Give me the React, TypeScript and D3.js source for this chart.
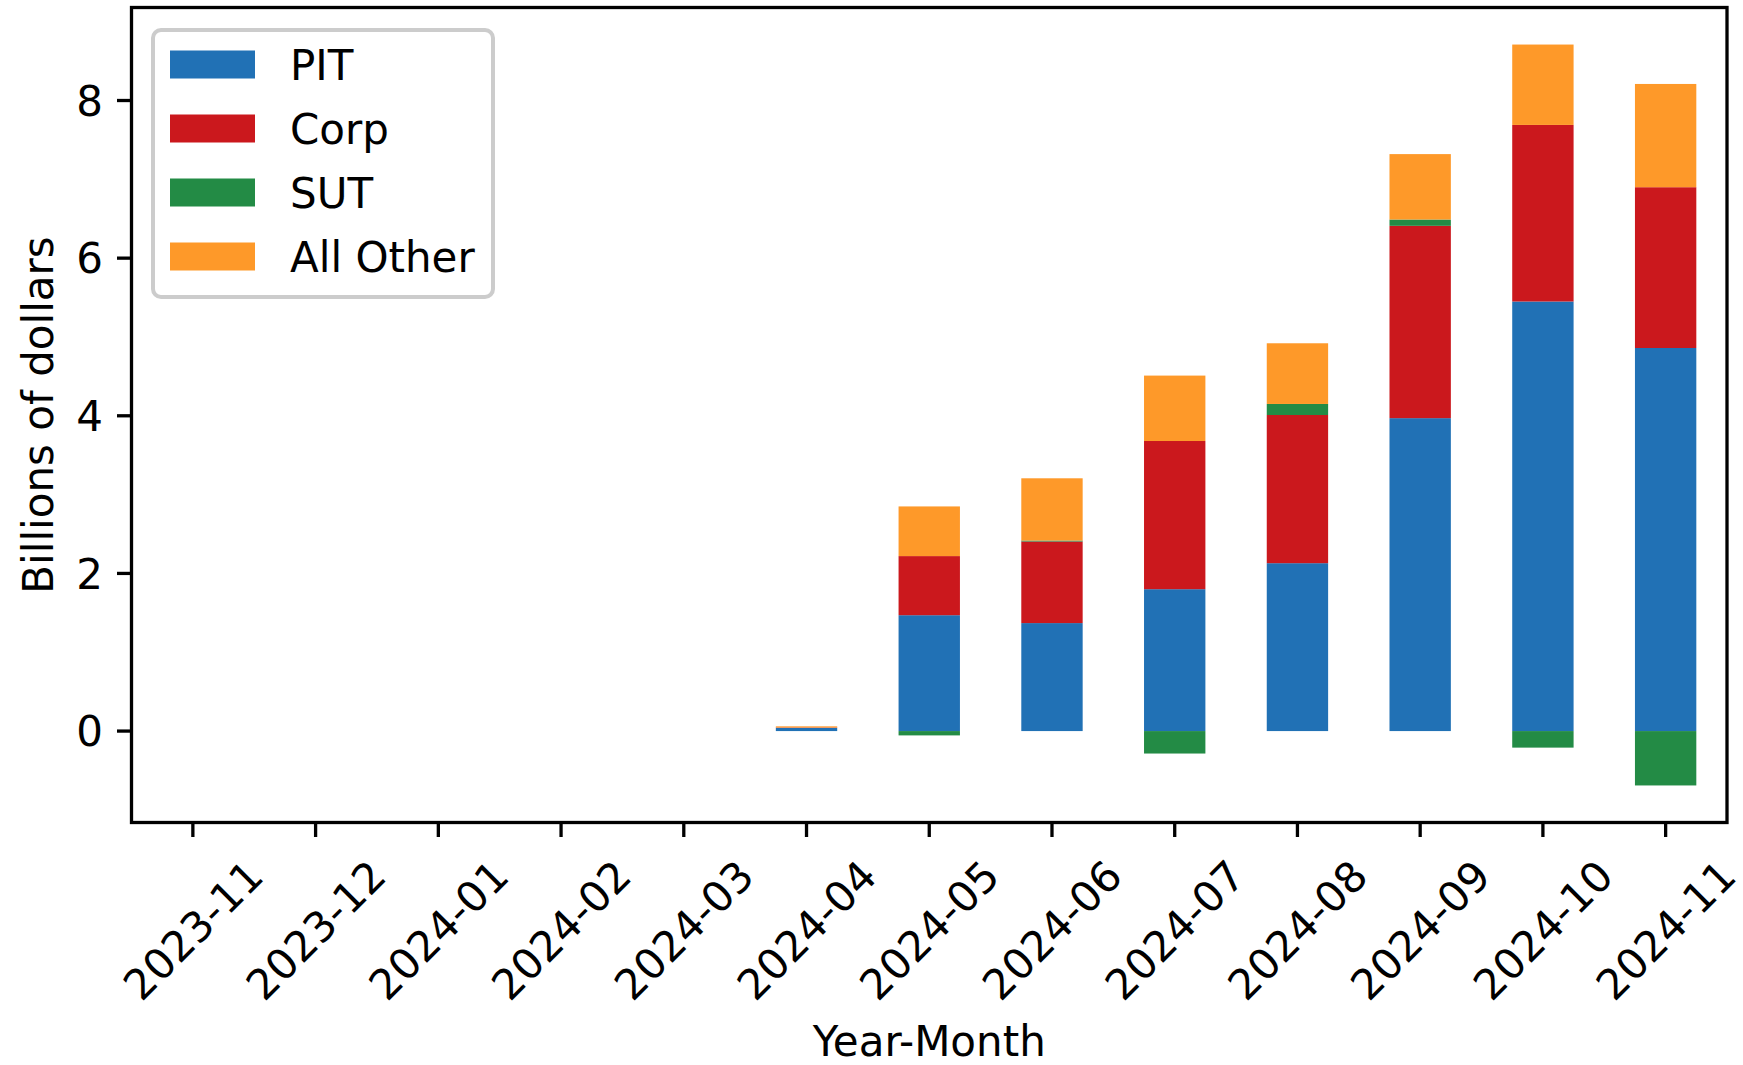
import React from "react";
import * as d3 from "d3";

const months = [
  "2023-11", "2023-12", "2024-01", "2024-02", "2024-03", "2024-04", "2024-05",
  "2024-06", "2024-07", "2024-08", "2024-09", "2024-10", "2024-11",
];
const pit = [0, 0, 0, 0, 0, 0.04, 1.47, 1.37, 1.8, 2.13, 3.97, 5.45, 4.86];
const corp = [0, 0, 0, 0, 0, 0.005, 0.75, 1.035, 1.88, 1.88, 2.44, 2.24, 2.04];
const sut = [0, 0, 0, 0, 0, 0, -0.055, 0.012, -0.285, 0.14, 0.08, -0.21, -0.69];
const other = [0, 0, 0, 0, 0, 0.015, 0.63, 0.79, 0.83, 0.77, 0.83, 1.02, 1.31];

const seriesKeys = ["PIT", "Corp", "SUT", "All Other"];
const seriesColors = ["#2171b5", "#cb181d", "#238b45", "#fe9929"];
const yTicks = [0, 2, 4, 6, 8];

const W = 1743;
const H = 1065;
const M = { left: 131.5, right: 1727, top: 7.5, bottom: 822.5 };
const FONT = "'DejaVu Sans', sans-serif";
const FS = 42;

export default function App() {
  const rows = months.map((m, i) => ({
    month: m,
    PIT: pit[i],
    Corp: corp[i],
    SUT: sut[i],
    "All Other": other[i],
  }));
  const stacked = d3
    .stack<any>()
    .keys(seriesKeys)
    .offset(d3.stackOffsetDiverging)(rows);

  const lo = d3.min(stacked, (s) => d3.min(s, (d) => d[0])) as number;
  const hi = d3.max(stacked, (s) => d3.max(s, (d) => d[1])) as number;
  const pad = (hi - lo) * 0.05;

  const x = d3
    .scaleLinear()
    .domain([-0.5, months.length - 0.5])
    .range([M.left, M.right]);
  const y = d3
    .scaleLinear()
    .domain([lo - pad, hi + pad])
    .range([M.bottom, M.top]);
  const barW = x(0.5) - x(0);

  const tickLen = 14.5;
  const lw = 3.3;

  // legend geometry
  const lgX = 153;
  const lgY = 30;
  const lgW = 340;
  const lgH = 267;
  const rowH = 64;

  // half-width of a rotated tick label along its direction (DejaVu Sans "2024-11" ≈ 4.177em)
  const halfLab = (4.177 * FS) / 2;
  const off = halfLab * Math.SQRT1_2;

  return (
    <svg
      width={W}
      height={H}
      style={{ position: "fixed", left: 0, top: 0, background: "#fff" }}
      fontFamily={FONT}
    >
      <rect x={0} y={0} width={W} height={H} fill="#fff" />
      {/* bars */}
      {stacked.map((s, si) => (
        <g key={s.key} fill={seriesColors[si]}>
          {s.map((d, i) => {
            const y0 = y(d[0]);
            const y1 = y(d[1]);
            const h = Math.abs(y0 - y1);
            if (h === 0) return null;
            return (
              <rect
                key={i}
                x={x(i) - barW / 2}
                y={Math.min(y0, y1)}
                width={barW}
                height={h}
              />
            );
          })}
        </g>
      ))}

      {/* axes frame */}
      <rect
        x={M.left}
        y={M.top}
        width={M.right - M.left}
        height={M.bottom - M.top}
        fill="none"
        stroke="#000"
        strokeWidth={lw}
      />

      {/* y ticks */}
      {yTicks.map((t) => (
        <g key={t}>
          <line
            x1={M.left - tickLen}
            x2={M.left}
            y1={y(t)}
            y2={y(t)}
            stroke="#000"
            strokeWidth={lw}
          />
          <text
            x={M.left - tickLen - 14}
            y={y(t)}
            dy="0.36em"
            textAnchor="end"
            fontSize={FS}
            fill="#000"
          >
            {t}
          </text>
        </g>
      ))}

      {/* x ticks */}
      {months.map((m, i) => {
        const cx = x(i);
        const cy = 930;
        const ax = cx + off;
        const ay = cy - off;
        return (
          <g key={m}>
            <line
              x1={cx}
              x2={cx}
              y1={M.bottom}
              y2={M.bottom + tickLen}
              stroke="#000"
              strokeWidth={lw}
            />
            <text
              x={ax}
              y={ay}
              dy="0.36em"
              textAnchor="end"
              fontSize={FS}
              fill="#000"
              transform={`rotate(-45, ${ax}, ${ay})`}
            >
              {m}
            </text>
          </g>
        );
      })}

      {/* axis labels */}
      <text
        x={(M.left + M.right) / 2}
        y={1056}
        textAnchor="middle"
        fontSize={FS}
        fill="#000"
      >
        Year-Month
      </text>
      <text
        transform={`translate(${53}, ${(M.top + M.bottom) / 2}) rotate(-90)`}
        textAnchor="middle"
        fontSize={FS}
        fill="#000"
      >
        Billions of dollars
      </text>

      {/* legend */}
      <rect
        x={lgX}
        y={lgY}
        width={lgW}
        height={lgH}
        rx={8}
        ry={8}
        fill="#fff"
        fillOpacity={0.8}
        stroke="#cccccc"
        strokeWidth={4}
      />
      {seriesKeys.map((k, i) => {
        const cy = 64.5 + i * rowH;
        return (
          <g key={k}>
            <rect
              x={170}
              y={cy - 14}
              width={85}
              height={28}
              fill={seriesColors[i]}
            />
            <text
              x={290}
              y={cy}
              dy="0.36em"
              fontSize={FS}
              fill="#000"
            >
              {k}
            </text>
          </g>
        );
      })}
    </svg>
  );
}
